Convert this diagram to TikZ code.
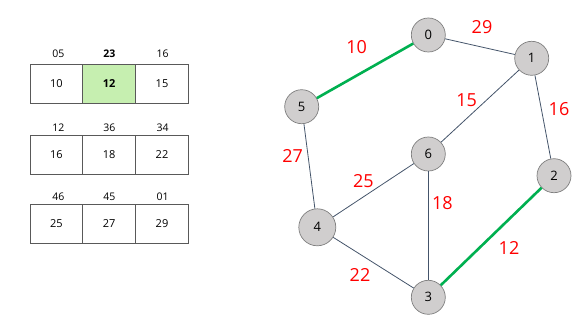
\documentclass[tikz,border=0pt]{standalone}
\usepackage{fontspec}
\setmainfont{Open Sans}
\usepackage{xcolor}
\usetikzlibrary{positioning}

\definecolor{cellgreen}{HTML}{C6EFB0}
\definecolor{edgegreen}{HTML}{00B050}
\definecolor{edgegray}{HTML}{44546A}
\definecolor{vfill}{HTML}{D0CECE}
\definecolor{vline}{HTML}{7F7F7F}

\begin{document}
\begin{tikzpicture}[x=1pt, y=-1pt,
    cell/.style={rectangle, draw=black!65, line width=0.8pt, minimum width=52.8pt, minimum height=39pt, inner sep=0pt, font=\fontsize{11}{13}\selectfont},
    head/.style={inner sep=0pt, font=\fontsize{10.5}{12}\selectfont},
    vertex/.style={circle, draw=vline, fill=vfill, line width=0.7pt, minimum size=34pt, inner sep=0pt, font=\fontsize{13}{15}\selectfont},
    weight/.style={text=red, inner sep=0pt, font=\fontsize{18}{20}\selectfont},
    edge/.style={draw=edgegray, line width=0.8pt},
    chosen/.style={draw=edgegreen, line width=2.6pt}
]
    \useasboundingbox (0,0) rectangle (580,326);

    % Table rows
    \node[cell] (a1) at (56.4, 83.7) {10};
    \node[cell, fill=cellgreen] (a2) at (109.2, 83.7) {\textbf{12}};
    \node[cell] (a3) at (162.0, 83.7) {15};
    \node[cell] (b1) at (56.4, 154.7) {16};
    \node[cell] (b2) at (109.2, 154.7) {18};
    \node[cell] (b3) at (162.0, 154.7) {22};
    \node[cell] (c1) at (56.4, 223.5) {25};
    \node[cell] (c2) at (109.2, 223.5) {27};
    \node[cell] (c3) at (162.0, 223.5) {29};

    % Row headers
    \node[head] (ha1) at (58.3, 54) {05};
    \node[head] (ha2) at (109.3, 54) {\textbf{23}};
    \node[head] (ha3) at (162.7, 54) {16};
    \node[head] (hb1) at (58.3, 127.3) {12};
    \node[head] (hb2) at (109.3, 127.3) {36};
    \node[head] (hb3) at (162.7, 127.3) {34};
    \node[head] (hc1) at (58.3, 196.7) {46};
    \node[head] (hc2) at (109.3, 196.7) {45};
    \node[head] (hc3) at (162.7, 196.7) {01};

    % Graph vertices
    \node[vertex] (v0) at (428.3, 35) {0};
    \node[vertex] (v1) at (531.7, 58.3) {1};
    \node[vertex] (v2) at (554, 175.7) {2};
    \node[vertex] (v3) at (428.3, 297.3) {3};
    \node[vertex, minimum size=37pt] (v4) at (317.3, 227.3) {4};
    \node[vertex] (v5) at (301.7, 106.7) {5};
    \node[vertex] (v6) at (428.3, 154) {6};

    % Edges
    \draw[edge] (v0) -- (v1);
    \draw[edge] (v1) -- (v2);
    \draw[edge] (v1) -- (v6);
    \draw[edge] (v5) -- (v4);
    \draw[edge] (v6) -- (v4);
    \draw[edge] (v6) -- (v3);
    \draw[edge] (v4) -- (v3);
    \draw[chosen] (v5) -- (v0);
    \draw[chosen] (v2) -- (v3);

    % Weights
    \node[weight] (w10) at (356.7, 46.7) {10};
    \node[weight] (w29) at (482, 27) {29};
    \node[weight] (w16) at (559, 109) {16};
    \node[weight] (w15) at (466.7, 100) {15};
    \node[weight] (w27) at (292.7, 155.7) {27};
    \node[weight] (w25) at (363.3, 180.7) {25};
    \node[weight] (w18) at (442.3, 203.3) {18};
    \node[weight] (w12) at (509, 248.3) {12};
    \node[weight] (w22) at (360, 275) {22};

\end{tikzpicture}
\end{document}
